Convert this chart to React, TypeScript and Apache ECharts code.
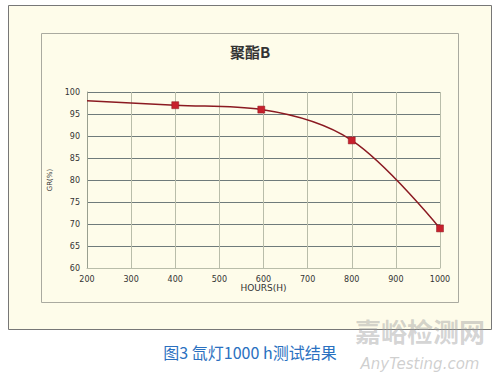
import React, { useEffect, useRef } from "react";
import * as echarts from "echarts";

const hours = [200, 400, 595, 800, 1000];
const grValues = [98, 97, 96, 89, 69];
const showMarker = [false, true, true, true, true];
const titleText = "聚酯B";
const xAxisName = "HOURS(H)";
const yAxisName = "GR(%)";
const captionText = "图3 氙灯1000 h测试结果";
const watermarkCn = "嘉峪检测网";
const watermarkEn = "AnyTesting.com";

export default function App() {
  const ref = useRef<HTMLDivElement>(null);
  useEffect(() => {
    document.body.style.margin = "0";
    const chart = echarts.init(ref.current!, null, { renderer: "svg" });
    const cream = "#fefcea";
    chart.setOption({
      animation: false,
      backgroundColor: "#ffffff",
      grid: { left: 87, right: 60, top: 92, bottom: 110 },
      xAxis: {
        type: "value",
        min: 200,
        max: 1000,
        interval: 100,
        name: xAxisName,
        nameLocation: "middle",
        nameGap: 14,
        nameTextStyle: { fontSize: 9, color: "#333", fontFamily: "DejaVu Sans" },
        axisLine: { show: true, lineStyle: { color: "#b9bdaa", width: 1 } },
        axisTick: { show: false },
        axisLabel: {
          fontSize: 8,
          color: "#333",
          margin: 7,
          fontFamily: "DejaVu Sans",
          formatter: (v: number) => String(v),
        },
        splitLine: { show: true, lineStyle: { color: "#b9bdaa", width: 1 } },
      },
      yAxis: {
        type: "value",
        min: 60,
        max: 100,
        interval: 5,
        name: yAxisName,
        nameLocation: "middle",
        nameGap: 20,
        nameTextStyle: { fontSize: 7, color: "#333", fontFamily: "DejaVu Sans" },
        axisLine: { show: true, lineStyle: { color: "#9aa090", width: 1 } },
        axisTick: { show: false },
        axisLabel: { fontSize: 8, color: "#333", margin: 7, fontFamily: "DejaVu Sans" },
        splitLine: { show: true, lineStyle: { color: "#6f7b7b", width: 1 } },
      },
      graphic: [
        {
          type: "rect",
          z: -10,
          silent: true,
          shape: { x: 8.5, y: 5.5, width: 483, height: 324 },
          style: { fill: cream, stroke: "#777777", lineWidth: 1 },
        },
        {
          type: "rect",
          z: -9,
          silent: true,
          shape: { x: 41.5, y: 33.5, width: 417, height: 269 },
          style: { fill: cream, stroke: "#aaaaa0", lineWidth: 1 },
        },
        {
          type: "text",
          x: 250,
          y: 51,
          style: {
            text: titleText,
            fill: "#333",
            font: "bold 15px 'Noto Sans CJK SC'",
            align: "center",
            verticalAlign: "middle",
          },
        },
        {
          type: "text",
          x: 250,
          y: 352,
          style: {
            text: captionText,
            fill: "#2a70c0",
            font: "16px 'Noto Sans CJK SC'",
            align: "center",
            verticalAlign: "middle",
          },
        },
        {
          type: "text",
          x: 420,
          y: 330,
          style: {
            text: watermarkCn,
            fill: "rgba(160,160,160,0.45)",
            font: "bold 26px 'Noto Sans CJK SC'",
            align: "center",
            verticalAlign: "middle",
          },
        },
        {
          type: "text",
          x: 420,
          y: 364,
          style: {
            text: watermarkEn,
            fill: "rgba(160,160,160,0.5)",
            font: "italic 15px 'DejaVu Sans'",
            align: "center",
            verticalAlign: "middle",
          },
        },
      ],
      series: [
        {
          type: "line",
          smooth: 0.35,
          data: hours.map((h, i) => ({
            value: [h, grValues[i]],
            symbol: showMarker[i] ? "rect" : "none",
          })),
          symbolSize: 7,
          lineStyle: { color: "#8b1a22", width: 1.5 },
          itemStyle: { color: "#c8202c", borderColor: "#8b1a22", borderWidth: 0.5 },
        },
      ],
    });
    return () => chart.dispose();
  }, []);
  return (
    <div style={{ position: "absolute", left: 0, top: 0 }}>
      <div ref={ref} style={{ width: 500, height: 378 }} />
    </div>
  );
}
